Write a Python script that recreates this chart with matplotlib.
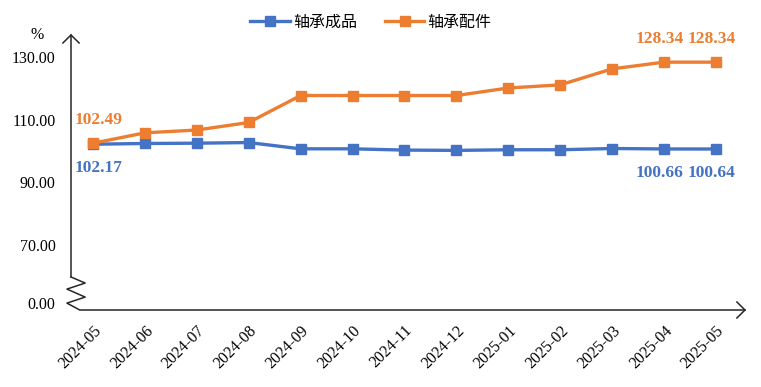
import matplotlib
matplotlib.use('Agg')
import matplotlib.pyplot as plt

plt.rcParams['font.family'] = ['Liberation Serif', 'Noto Sans CJK SC']

months = ['2024-05', '2024-06', '2024-07', '2024-08', '2024-09', '2024-10', '2024-11',
          '2024-12', '2025-01', '2025-02', '2025-03', '2025-04', '2025-05']
finished = [102.17, 102.4, 102.5, 102.7, 100.7, 100.7, 100.3, 100.2, 100.4, 100.4, 100.8, 100.66, 100.64]
parts = [102.49, 105.8, 106.7, 109.1, 117.7, 117.7, 117.7, 117.7, 120.1, 121.1, 126.2, 128.34, 128.34]
series_names = ['轴承成品', '轴承配件']
labelled = [0, 11, 12]

ytick_vals = [51.5, 70, 90, 110, 130]
ytick_labels = ['0.00', '70.00', '90.00', '110.00', '130.00']

blue = '#4472C4'
orange = '#ED7D31'

fig = plt.figure(figsize=(7.61, 3.87), dpi=100)
ax = fig.add_axes([71 / 761, 1 - 310 / 387, 674 / 761, 275 / 387])

x = list(range(len(months)))
l1, = ax.plot(x, finished, color=blue, lw=2.4, marker='s', ms=6.5, zorder=3)
l2, = ax.plot(x, parts, color=orange, lw=2.4, marker='s', ms=6.5, zorder=3)

for i in labelled:
    dx = 4 if i == 0 else -3
    ax.annotate(f'{finished[i]:.2f}', (x[i], finished[i]), xytext=(dx, -17), textcoords='offset points',
                ha='center', va='center', color=blue, fontsize=12.5, fontweight='bold')
    ax.annotate(f'{parts[i]:.2f}', (x[i], parts[i]), xytext=(dx, 17), textcoords='offset points',
                ha='center', va='center', color=orange, fontsize=12.5, fontweight='bold')

ax.set_xlim(-0.424, 12.56)
ax.set_ylim(49.3, 137.0)
for s in ax.spines.values():
    s.set_visible(False)

ax.set_yticks(ytick_vals)
ax.set_yticklabels(ytick_labels, fontsize=11.5)
ax.set_xticks(x)
ax.set_xticklabels(months, fontsize=11.5, rotation=45, ha='right', va='top', rotation_mode='anchor')
ax.tick_params(axis='y', length=0, pad=11)
ax.tick_params(axis='x', length=0, pad=9)

# axis lines with break and arrows
kw = dict(transform=ax.transAxes, color='#262626', lw=1.1, clip_on=False)
ax.plot([0, 0], [0.12, 1.0], **kw)
ax.plot([0, 0.021, -0.006, 0.021, -0.006, 0.013, 1.0],
        [0.12, 0.098, 0.076, 0.047, 0.025, 0.0, 0.0], **kw)
ax.plot([-0.012, 0, 0.012], [0.971, 1.0, 0.971], **kw)
ax.plot([0.988, 1.0, 0.988], [0.029, 0.0, -0.029], **kw)
ax.text(-0.05, 1.0, '%', transform=ax.transAxes, ha='center', va='center', fontsize=11.5)

fig.legend([l1, l2], series_names, loc='center', bbox_to_anchor=(0.4875, 0.943), ncol=2,
           frameon=False, handlelength=2.5, handletextpad=0.2, columnspacing=1.7,
           prop={'family': 'Noto Sans CJK SC', 'size': 11.5})

fig.savefig('out.png', dpi=100)
